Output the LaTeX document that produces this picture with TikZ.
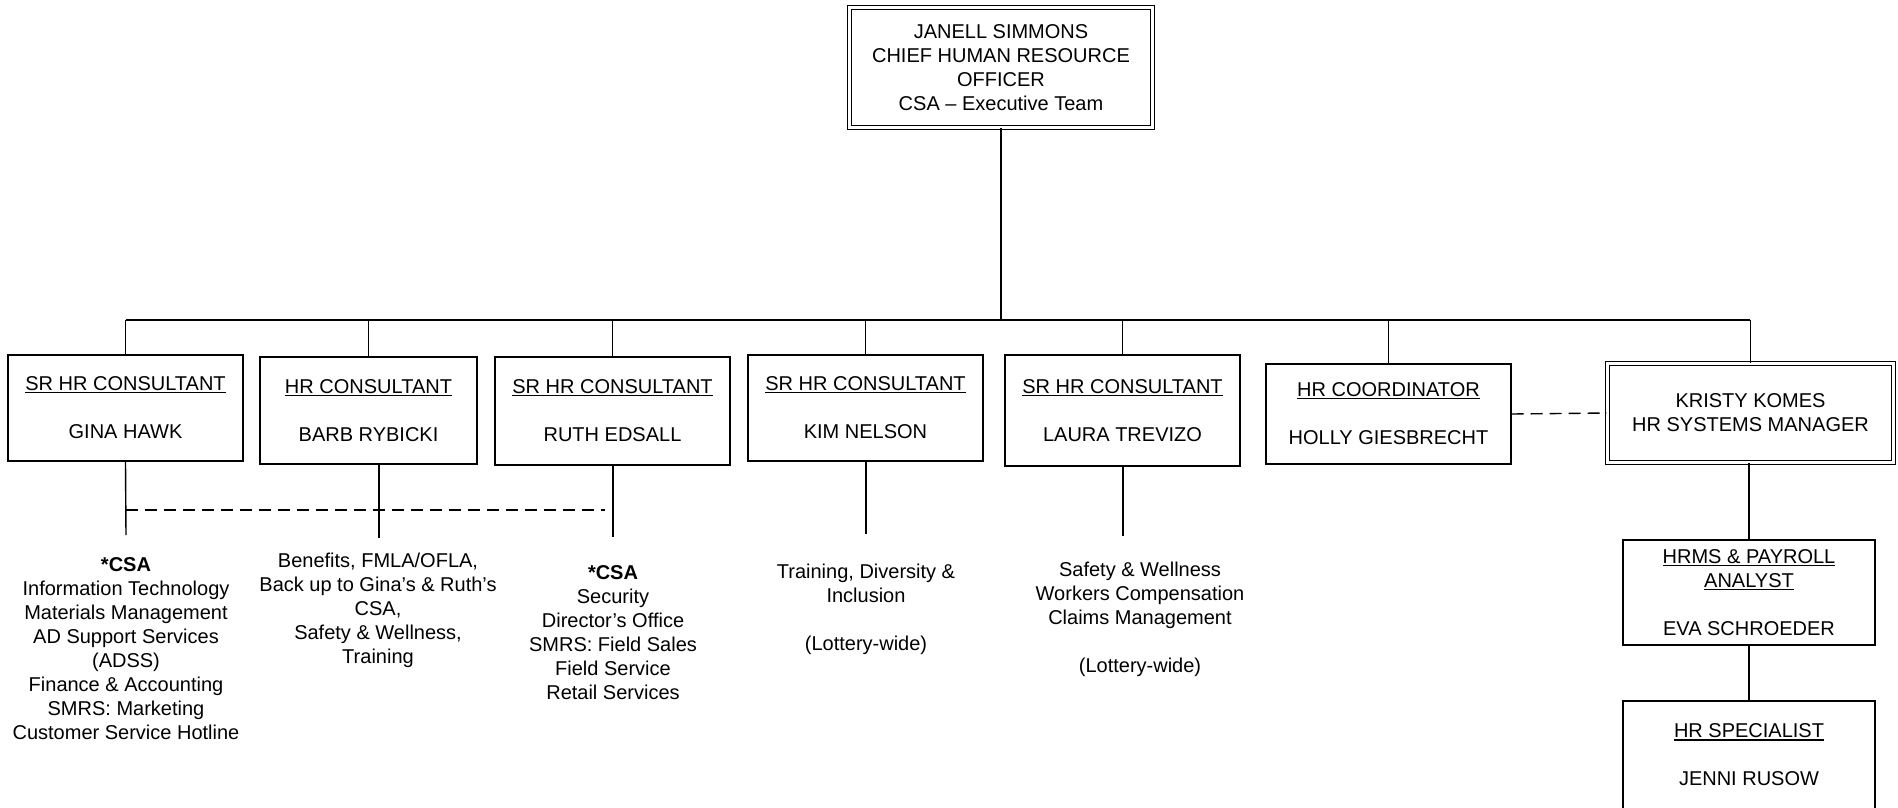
\documentclass[tikz,border=0pt]{standalone}
\usepackage{fontspec}
\setmainfont{Liberation Sans}
% underlined heading line inside a box
\newcommand\headline[1]{\leavevmode\setbox0\hbox{#1}\rlap{\rule[-2.6pt]{\wd0}{1.1pt}}\box0}
\begin{document}
\begin{tikzpicture}[x=1pt,y=-1pt,line width=1.4pt,
  every node/.style={font=\fontsize{20}{24}\selectfont,align=center},
  box/.style={draw,inner sep=0pt},
  dbox/.style={draw,double,double distance=2.5pt,line width=1.2pt,inner sep=0pt},
  dotted link/.style={dash pattern=on 12pt off 7pt}]
\useasboundingbox (0,0) rectangle (1898,807);

% executive
\node[dbox,minimum width=303pt,minimum height=120pt] (top) at (1001,67.5)
  {JANELL SIMMONS\\CHIEF HUMAN RESOURCE\\OFFICER\\CSA – Executive Team};

% direct reports
\node[box,minimum width=235pt,minimum height=106pt] (gina) at (125.5,408)
  {\headline{SR HR CONSULTANT}\\[24pt]GINA HAWK};
\node[box,minimum width=217pt,minimum height=107pt] (barb) at (368.5,410.5)
  {\headline{HR CONSULTANT}\\[24pt]BARB RYBICKI};
\node[box,minimum width=235pt,minimum height=108pt] (ruth) at (612.5,411)
  {\headline{SR HR CONSULTANT}\\[24pt]RUTH EDSALL};
\node[box,minimum width=235pt,minimum height=106pt] (kim) at (865.5,408)
  {\headline{SR HR CONSULTANT}\\[24pt]KIM NELSON};
\node[box,minimum width=235pt,minimum height=111pt] (laura) at (1122.5,410.5)
  {\headline{SR HR CONSULTANT}\\[24pt]LAURA TREVIZO};
\node[box,minimum width=245pt,minimum height=100pt] (holly) at (1388.5,414)
  {\headline{HR COORDINATOR}\\[24pt]HOLLY GIESBRECHT};
\node[dbox,minimum width=286pt,minimum height=99pt] (kristy) at (1750.5,413)
  {KRISTY KOMES\\HR SYSTEMS MANAGER};

% systems team
\node[box,minimum width=252pt,minimum height=105pt] (hrms) at (1749,592.5)
  {\headline{HRMS \& PAYROLL}\\\headline{ANALYST}\\[24pt]EVA SCHROEDER};
\node[box,minimum width=252pt,minimum height=108pt] (spec) at (1749,755)
  {\headline{HR SPECIALIST}\\[24pt]JENNI RUSOW};

% areas of responsibility
\node (ginaTxt) at (126,648.5)
  {\textbf{*CSA}\\Information Technology\\Materials Management\\AD Support Services\\(ADSS)\\Finance \& Accounting\\SMRS: Marketing\\Customer Service Hotline};
\node (barbTxt) at (378,610)
  {Benefits, FMLA/OFLA,\\Back up to Gina’s \& Ruth’s\\CSA,\\Safety \& Wellness,\\Training};
\node (ruthTxt) at (613,633)
  {\textbf{*CSA}\\Security\\Director’s Office\\SMRS: Field Sales\\Field Service\\Retail Services};
\node (kimTxt) at (866,609)
  {Training, Diversity \&\\Inclusion\\[24pt](Lottery-wide)};
\node (lauraTxt) at (1140,619)
  {Safety \& Wellness\\Workers Compensation\\Claims Management\\[24pt](Lottery-wide)};

% reporting lines
\coordinate (busL) at (126,320);
\coordinate (busR) at (1750,320);
\draw (top.south) -- (top.south |- busL);
\draw (busL) -- (busR);
\foreach \n in {gina,barb,ruth,kim,laura,holly,kristy}
  \draw (\n.north) -- (\n.north |- busL);

\coordinate (ginaEnd) at (126,535);
\coordinate (barbEnd) at (379,538);
\coordinate (ruthEnd) at (613,537);
\coordinate (kimEnd) at (866,534);
\coordinate (lauraEnd) at (1123,536);
\draw (gina.south) -- (ginaEnd);
\draw (barbEnd |- barb.south) -- (barbEnd);
\draw (ruthEnd |- ruth.south) -- (ruthEnd);
\draw (kimEnd |- kim.south) -- (kimEnd);
\draw (lauraEnd |- laura.south) -- (lauraEnd);

\coordinate (shareL) at (126,510);
\coordinate (shareR) at (605,510);
\draw[dotted link] (shareL) -- (shareR);
\draw[dotted link] (holly.east) -- (kristy.west);

\draw (hrms.north) -- (hrms.north |- kristy.south);
\draw (hrms.south) -- (spec.north);
\end{tikzpicture}
\end{document}
